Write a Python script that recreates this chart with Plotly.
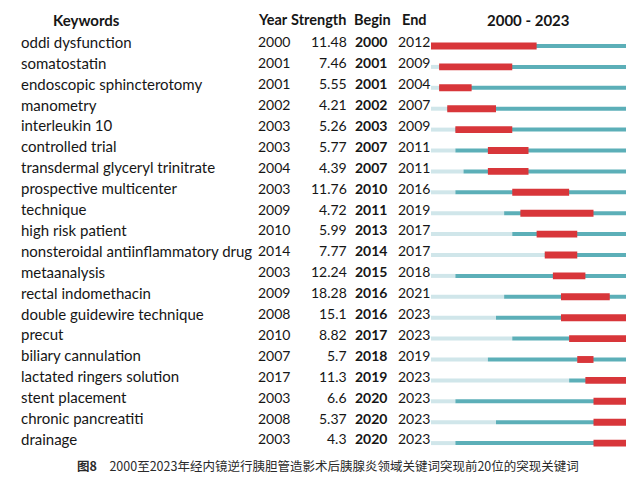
import plotly.graph_objects as go

keywords = ["oddi dysfunction", "somatostatin", "endoscopic sphincterotomy", "manometry",
            "interleukin 10", "controlled trial", "transdermal glyceryl trinitrate",
            "prospective multicenter", "technique", "high risk patient",
            "nonsteroidal antiinflammatory drug", "metaanalysis", "rectal indomethacin",
            "double guidewire technique", "precut", "biliary cannulation",
            "lactated ringers solution", "stent placement", "chronic pancreatiti", "drainage"]
year = [2000, 2001, 2001, 2002, 2003, 2003, 2004, 2003, 2009, 2010,
        2014, 2003, 2009, 2008, 2010, 2007, 2017, 2003, 2008, 2003]
strength = [11.48, 7.46, 5.55, 4.21, 5.26, 5.77, 4.39, 11.76, 4.72, 5.99,
            7.77, 12.24, 18.28, 15.1, 8.82, 5.7, 11.3, 6.6, 5.37, 4.3]
begin = [2000, 2001, 2001, 2002, 2003, 2007, 2007, 2010, 2011, 2013,
         2014, 2015, 2016, 2016, 2017, 2018, 2019, 2020, 2020, 2020]
end = [2012, 2009, 2004, 2007, 2009, 2011, 2011, 2016, 2019, 2017,
       2017, 2018, 2021, 2023, 2023, 2019, 2023, 2023, 2023, 2023]
start_year, end_year = 2000, 2023
headers = ["Keywords", "Year", "Strength", "Begin", "End", "2000 - 2023"]
caption_label = "图8"
caption_text = "2000至2023年经内镜逆行胰胆管造影术后胰腺炎领域关键词突现前20位的突现关键词"

W, H = 643, 482
OX, OY = 8, 8  # page body margin offset
RED = "#d8363a"
TEAL = "#5cafb8"
LIGHT = "#d0e6ea"
TXT = "#161616"
FONT = "Lato"
FS = 15
FN = 14

rows = list(range(len(keywords)))

fig = go.Figure()
fig.add_trace(go.Bar(y=rows, base=[start_year] * len(rows), x=[y - start_year for y in year],
                     orientation="h", width=0.19, marker=dict(color=LIGHT, line=dict(width=0)),
                     hoverinfo="skip", showlegend=False))
fig.add_trace(go.Bar(y=rows, base=year, x=[end_year + 1 - y for y in year],
                     orientation="h", width=0.19, marker=dict(color=TEAL, line=dict(width=0)),
                     hoverinfo="skip", showlegend=False))
fig.add_trace(go.Bar(y=rows, base=begin, x=[e + 1 - b for b, e in zip(begin, end)],
                     orientation="h", width=0.33, marker=dict(color=RED, line=dict(width=0)),
                     hoverinfo="skip", showlegend=False))

row_px = 20.9
y0 = 46 - OY
y_top = -y0 / row_px
y_bot = (H - y0) / row_px

fig.update_layout(
    width=W, height=H, margin=dict(l=0, r=0, t=0, b=0),
    paper_bgcolor="white", plot_bgcolor="white", barmode="overlay",
    xaxis=dict(domain=[(431 - OX) / W, (626 - OX) / W], range=[start_year, end_year + 1],
               visible=False, fixedrange=True),
    yaxis=dict(domain=[0, 1], range=[y_bot, y_top], visible=False, fixedrange=True),
    font=dict(family=FONT, size=FS, color=TXT),
)

ann = []
toff = -0.2
def add(text, x, y, xanchor, size=FS, bold=False, family=FONT):
    ann.append(dict(text=("<b>%s</b>" % text) if bold else text, x=(x - OX) / W, xref="paper",
                    y=y, yref="y", xanchor=xanchor, yanchor="middle", showarrow=False,
                    font=dict(family=family, size=size, color=TXT)))

hy = -1.25
add(headers[0], 86, hy, "center", bold=True)
add(headers[1], 256, hy, "left", size=14.5, bold=True)
add(headers[2], 289, hy, "left", size=14.5, bold=True)
add(headers[3], 352, hy, "left", size=14.5, bold=True)
add(headers[4], 400, hy, "left", size=14.5, bold=True)
add(headers[5], 528, hy, "center", bold=True)

for i in rows:
    yy = i + toff
    add(keywords[i], 19, yy, "left")
    add(str(year[i]), 256, yy, "left", size=FN)
    add(str(strength[i]), 349, yy, "right", size=FN)
    add(str(begin[i]), 353, yy, "left", size=FN, bold=True)
    add(str(end[i]), 396, yy, "left", size=FN)

cap_y = (465 - 46) / row_px
ann.append(dict(text="<b>%s</b>\u2003%s" % (caption_label, caption_text), x=(327.5 - OX) / W, xref="paper",
                y=cap_y, yref="y", xanchor="center", yanchor="middle", showarrow=False,
                font=dict(family="Noto Sans CJK SC", size=12.5, color="#2a2a2a")))

fig.update_layout(annotations=ann)
fig.write_html("out.html")
